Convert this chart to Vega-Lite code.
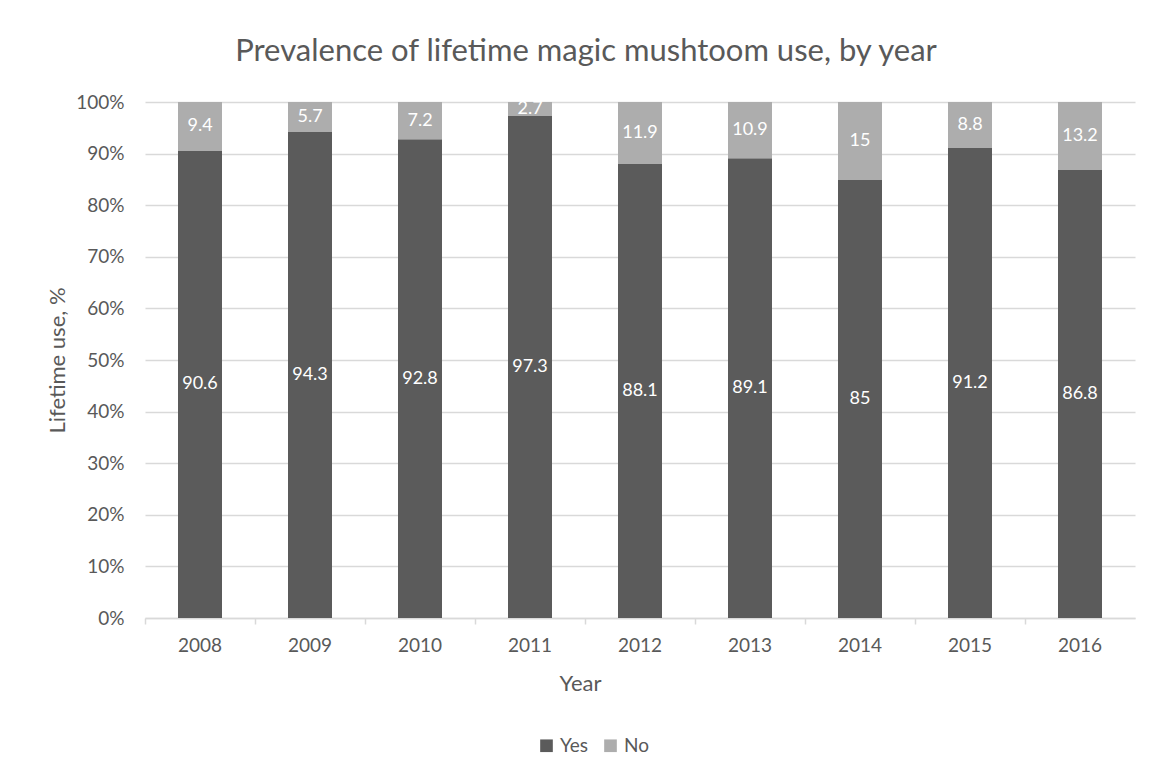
{
  "$schema": "https://vega.github.io/schema/vega-lite/v6.json",
  "autosize": {"type": "none"},
  "width": 990,
  "height": 516,
  "padding": {"left": 145, "top": 102, "right": 16, "bottom": 156},
  "background": "white",
  "title": {
    "text": "Prevalence of lifetime magic mushtoom use, by year",
    "anchor": "middle",
    "frame": "group",
    "dx": -54,
    "offset": 25,
    "fontSize": 31,
    "font": "Lato",
    "fontWeight": "normal",
    "color": "#595959"
  },
  "data": {
    "values": [
      {"year": "2008", "answer": "Yes", "value": 90.6},
      {"year": "2008", "answer": "No", "value": 9.4},
      {"year": "2009", "answer": "Yes", "value": 94.3},
      {"year": "2009", "answer": "No", "value": 5.7},
      {"year": "2010", "answer": "Yes", "value": 92.8},
      {"year": "2010", "answer": "No", "value": 7.2},
      {"year": "2011", "answer": "Yes", "value": 97.3},
      {"year": "2011", "answer": "No", "value": 2.7},
      {"year": "2012", "answer": "Yes", "value": 88.1},
      {"year": "2012", "answer": "No", "value": 11.9},
      {"year": "2013", "answer": "Yes", "value": 89.1},
      {"year": "2013", "answer": "No", "value": 10.9},
      {"year": "2014", "answer": "Yes", "value": 85},
      {"year": "2014", "answer": "No", "value": 15},
      {"year": "2015", "answer": "Yes", "value": 91.2},
      {"year": "2015", "answer": "No", "value": 8.8},
      {"year": "2016", "answer": "Yes", "value": 86.8},
      {"year": "2016", "answer": "No", "value": 13.2}
    ]
  },
  "transform": [
    {"stack": "value", "groupby": ["year"], "sort": [{"field": "answer", "order": "descending"}], "as": ["lo", "hi"]},
    {"calculate": "(datum.lo + datum.hi) / 2", "as": "mid"}
  ],
  "config": {
    "font": "Lato",
    "view": {"stroke": null}
  },
  "layer": [
    {
      "mark": {"type": "bar", "width": {"band": 0.4}},
      "encoding": {
        "x": {
          "field": "year",
          "type": "ordinal",
          "scale": {"paddingInner": 0, "paddingOuter": 0},
          "axis": {
            "title": "Year",
            "titleFontSize": 22,
            "titleFontWeight": "normal",
            "titleColor": "#595959",
            "titleX": 435,
            "titleY": 65,
            "titleBaseline": "middle",
            "labelAngle": 0,
            "labelFontSize": 19,
            "labelColor": "#595959",
            "labelPadding": 12,
            "bandPosition": 0,
            "domainColor": "#d9d9d9",
            "domainWidth": 1.5,
            "tickColor": "#d9d9d9",
            "tickWidth": 1.5,
            "tickSize": 6,
            "grid": false
          }
        },
        "y": {
          "field": "lo",
          "type": "quantitative",
          "scale": {"domain": [0, 100], "nice": false},
          "axis": {
            "title": "Lifetime use, %",
            "titleFontSize": 22,
            "titleFontWeight": "normal",
            "titleColor": "#595959",
            "titleX": -88,
            "titleY": 258,
            "titleAngle": -90,
            "titleBaseline": "middle",
            "titleAlign": "center",
            "values": [0, 10, 20, 30, 40, 50, 60, 70, 80, 90, 100],
            "labelExpr": "datum.value + '%'",
            "labelFontSize": 19,
            "labelColor": "#595959",
            "labelPadding": 21,
            "domain": false,
            "ticks": false,
            "grid": true,
            "gridColor": "#d9d9d9",
            "gridWidth": 1.5
          }
        },
        "y2": {"field": "hi"},
        "color": {
          "field": "answer",
          "type": "nominal",
          "scale": {"domain": ["Yes", "No"], "range": ["#5b5b5b", "#adadad"]},
          "legend": {
            "title": null,
            "orient": "none",
            "direction": "horizontal",
            "legendX": 392,
            "legendY": 634,
            "symbolType": "square",
            "symbolSize": 160,
            "symbolStrokeWidth": 0,
            "symbolOpacity": 1,
            "labelFontSize": 19,
            "labelColor": "#595959",
            "labelOffset": 4,
            "columnPadding": 12
          }
        }
      }
    },
    {
      "mark": {"type": "text", "color": "white", "fontSize": 18, "baseline": "middle", "align": "center"},
      "encoding": {
        "x": {"field": "year", "type": "ordinal"},
        "y": {"field": "mid", "type": "quantitative"},
        "text": {"field": "value", "type": "quantitative"}
      }
    }
  ]
}
